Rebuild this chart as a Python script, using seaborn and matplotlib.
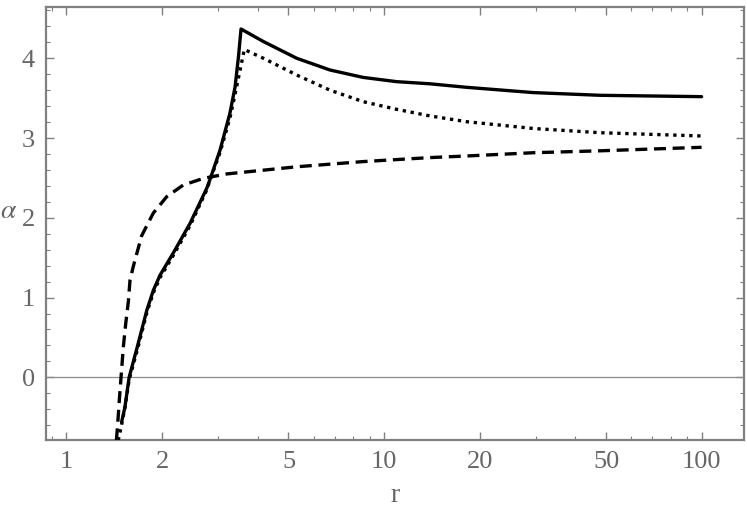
import numpy as np
import pandas as pd
import seaborn as sns
import matplotlib.pyplot as plt
from matplotlib.ticker import FixedLocator, MultipleLocator, NullFormatter

# values
r_solid = [1.492, 1.528, 1.575, 1.673, 1.79, 1.877, 1.97, 2.17, 2.449, 2.765, 2.83, 3.045,
           3.27, 3.395, 3.48, 3.545, 4.17, 5.31, 6.76, 8.6, 10.96, 13.96, 18.2, 29.5, 47.9, 100]
a_solid = [-0.557, -0.37, 0.0, 0.39, 0.84, 1.09, 1.28, 1.56, 1.93, 2.37, 2.48, 2.85,
           3.31, 3.64, 4.02, 4.367, 4.21, 4.0, 3.853, 3.76, 3.707, 3.68, 3.636, 3.57, 3.536, 3.519]

r_dotted = [1.455, 1.49, 1.528, 1.575, 1.673, 1.79, 1.877, 1.97, 2.17, 2.449, 2.765, 2.83,
            3.045, 3.27, 3.395, 3.52, 3.63, 4.17, 5.31, 6.76, 8.6, 10.96, 13.96, 18.2,
            29.5, 47.9, 100]
a_dotted = [-0.79, -0.60, -0.38, -0.03, 0.35, 0.81, 1.06, 1.25, 1.53, 1.90, 2.35, 2.47,
            2.82, 3.25, 3.55, 3.85, 4.11, 4.0, 3.79, 3.60, 3.456, 3.36, 3.277, 3.205,
            3.12, 3.067, 3.026]

r_dashed = [1.436, 1.439, 1.45, 1.467, 1.485, 1.51, 1.537, 1.566, 1.585, 1.623, 1.725, 1.877,
            2.068, 2.33, 2.70, 3.196, 5.31, 8.6, 13.96, 18.2, 29.5, 47.9, 100]
a_dashed = [-0.79, -0.745, -0.58, -0.28, 0.0, 0.38, 0.68, 0.95, 1.22, 1.39, 1.776, 2.06,
            2.265, 2.41, 2.495, 2.55, 2.64, 2.705, 2.755, 2.775, 2.816, 2.84, 2.884]

x_ticks = [1, 2, 5, 10, 20, 50, 100]
y_ticks = [0, 1, 2, 3, 4]

df = pd.concat([
    pd.DataFrame({"r": r_solid, "alpha": a_solid, "curve": "solid"}),
    pd.DataFrame({"r": r_dotted, "alpha": a_dotted, "curve": "dotted"}),
    pd.DataFrame({"r": r_dashed, "alpha": a_dashed, "curve": "dashed"}),
])

sns.set_style("ticks")
plt.rcParams['font.family'] = ['Liberation Serif', 'DejaVu Serif']
plt.rcParams['mathtext.fontset'] = 'stix'

fig = plt.figure(figsize=(7.47, 5.15), dpi=100)
ax = fig.add_axes([0.0616, 0.1456, 0.9344, 0.8408])

ax.axhline(0, color='#8c8c8c', lw=0.9, zorder=1)

sns.lineplot(data=df, x="r", y="alpha", style="curve", color="black",
             dashes={"solid": "", "dotted": (1.0, 1.4), "dashed": (3.6, 2.0)},
             linewidth=2.4, legend=False, ax=ax, zorder=3)

ax.set_xscale('log')
ax.set_xlim(0.862, 136)
ax.set_ylim(-0.786, 4.643)

ax.xaxis.set_major_locator(FixedLocator(x_ticks))
ax.set_xticklabels([str(t) for t in x_ticks])
minor = [m * 10 ** e for e in range(-1, 3) for m in range(1, 10)]
ax.xaxis.set_minor_locator(FixedLocator([m for m in minor if m not in x_ticks]))
ax.xaxis.set_minor_formatter(NullFormatter())
ax.yaxis.set_major_locator(FixedLocator(y_ticks))
ax.yaxis.set_minor_locator(MultipleLocator(0.2))

frame_col = '#808080'
for s in ax.spines.values():
    s.set_color(frame_col)
    s.set_linewidth(1.6)

ax.tick_params(which='both', direction='in', top=True, right=True,
               color=frame_col, labelcolor='#666666', labelsize=19)
ax.tick_params(which='major', length=6, width=1.0, pad=8)
ax.tick_params(which='minor', length=3, width=0.8)

ax.set_xlabel('r', fontsize=20, color='#666666')
ax.xaxis.set_label_coords(0.5, -0.1)
ax.set_ylabel(r'$\alpha$', fontsize=20, color='#666666', rotation=0)
ax.yaxis.set_label_coords(-0.054, 0.50)

fig.savefig('out.png', dpi=100)
